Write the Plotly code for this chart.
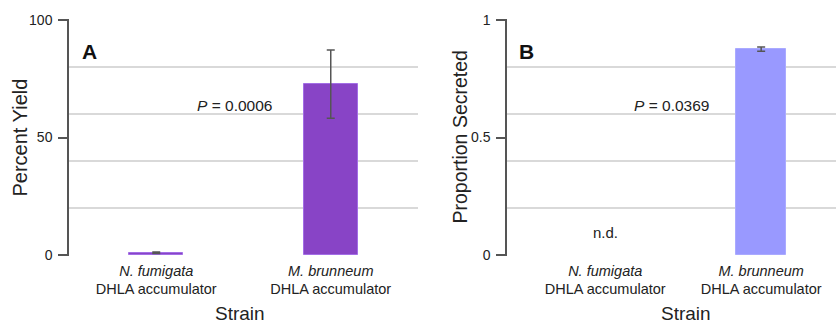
import plotly.graph_objects as go

strains = ["<i>N. fumigata</i><br>DHLA accumulator", "<i>M. brunneum</i><br>DHLA accumulator"]
yield_vals = [1.0, 72.7]
yield_err = [0.3, 14.5]
secreted_vals = [None, 0.876]
secreted_err = [0, 0.009]

FONT = "Liberation Sans, Arial, sans-serif"
GRID = "#d9d9d9"
AXC = "#555555"
TXT = "#222222"

fig = go.Figure()
fig.add_trace(go.Bar(
    x=[0, 1], y=yield_vals, xaxis="x", yaxis="y", width=0.31,
    marker=dict(color="#8844C6", line=dict(color="#a36ee6", width=1)),
    error_y=dict(type="data", array=yield_err, color=AXC, thickness=1.5, width=4),
    showlegend=False))
fig.add_trace(go.Bar(
    x=[0, 1], y=secreted_vals, xaxis="x2", yaxis="y2", width=0.32,
    marker=dict(color="#9999FF", line=dict(color="#aaaaff", width=1)),
    error_y=dict(type="data", array=secreted_err, color=AXC, thickness=1.5, width=4),
    showlegend=False))

L, R, T, B = 0, 0, 19, 68
W, H = 836, 324
pw = W - L - R
xa = [(69 - L) / pw, (418 - L) / pw]
xb = [(507 - L) / pw, 1.0]

common_x = dict(tickmode="array", tickvals=[0, 1], ticktext=strains, ticks="",
                showgrid=False, zeroline=False, showline=False, automargin=False,
                ticklabelstandoff=4,
                tickfont=dict(size=14.5, family=FONT, color=TXT))

def grid_axis(rng, dt, anchor):
    return dict(domain=[0, 1], range=rng, anchor=anchor, dtick=dt, showgrid=True, gridcolor=GRID,
                gridwidth=1.5, showticklabels=False, ticks="", zeroline=False,
                showline=False, automargin=False)

def tick_axis(rng, over, anchor, vals, texts):
    return dict(domain=[0, 1], range=rng, overlaying=over, anchor=anchor, tickmode="array",
                tickvals=vals, ticktext=texts, showgrid=False, zeroline=False, showline=True,
                linecolor=AXC, linewidth=1.5, ticks="outside", ticklen=9, tickcolor=AXC, tickwidth=1.5,
                automargin=False, ticklabelstandoff=3,
                tickfont=dict(size=14, family=FONT, color=TXT))

fig.update_layout(
    width=W, height=H, margin=dict(l=L, r=R, t=T, b=B, autoexpand=False),
    paper_bgcolor="white", plot_bgcolor="white",
    font=dict(family=FONT, color=TXT),
    bargap=0,
    xaxis=dict(domain=xa, range=[-0.5, 1.5], anchor="y", **common_x),
    xaxis2=dict(domain=xb, range=[-0.63, 1.48], anchor="y2", **common_x),
    yaxis=grid_axis([-0.4, 100.4], 20, "x"),
    yaxis3=tick_axis([-0.4, 100.4], "y", "x", [0, 50, 100], ["0", "50", "100"]),
    yaxis2=grid_axis([-0.004, 1.004], 0.2, "x2"),
    yaxis4=tick_axis([-0.004, 1.004], "y2", "x2", [0, 0.5, 1], ["0", "0.5", "1"]),
)

# invisible traces to activate the tick-only overlay axes
fig.add_trace(go.Scatter(x=[0], y=[None], xaxis="x", yaxis="y3", showlegend=False, hoverinfo="skip"))
fig.add_trace(go.Scatter(x=[0], y=[None], xaxis="x2", yaxis="y4", showlegend=False, hoverinfo="skip"))

# axis titles
fig.add_annotation(text="Percent Yield", textangle=-90, x=0, xref="x domain", xshift=-50,
                   xanchor="center", yanchor="middle",
                   y=0.5, yref="y domain", showarrow=False, font=dict(size=20, family=FONT, color=TXT))
fig.add_annotation(text="Proportion Secreted", textangle=-90, x=0, xref="x2 domain", xshift=-48,
                   xanchor="center", yanchor="middle",
                   y=0.5, yref="y2 domain", showarrow=False, font=dict(size=19.5, family=FONT, color=TXT))
fig.add_annotation(text="Strain", x=0.48, xref="x", y=0, yref="y domain", yshift=-57,
                   xanchor="center", yanchor="middle",
                   showarrow=False, font=dict(size=19, family=FONT, color=TXT))
fig.add_annotation(text="Strain", x=0.52, xref="x2", y=0, yref="y2 domain", yshift=-57,
                   xanchor="center", yanchor="middle",
                   showarrow=False, font=dict(size=19, family=FONT, color=TXT))

fig.add_annotation(text="<b>A</b>", x=80 / W, y=1 - 45 / H, xref="paper", yref="paper",
                   xanchor="left", yanchor="middle", showarrow=False, font=dict(size=21, family=FONT, color="#111"))
fig.add_annotation(text="<b>B</b>", x=517 / W, y=1 - 45 / H, xref="paper", yref="paper",
                   xanchor="left", yanchor="middle", showarrow=False, font=dict(size=21, family=FONT, color="#111"))
fig.add_annotation(text="<i>P</i> = 0.0006", x=0.446, y=63.8, xref="x", yref="y",
                   showarrow=False, font=dict(size=15.5, family=FONT, color=TXT))
fig.add_annotation(text="<i>P</i> = 0.0369", x=0.423, y=0.638, xref="x2", yref="y2",
                   showarrow=False, font=dict(size=15.5, family=FONT, color=TXT))
fig.add_annotation(text="n.d.", x=0.0, y=0.094, xref="x2", yref="y2",
                   showarrow=False, font=dict(size=15, family=FONT, color=TXT))

fig.write_html("out.html")
